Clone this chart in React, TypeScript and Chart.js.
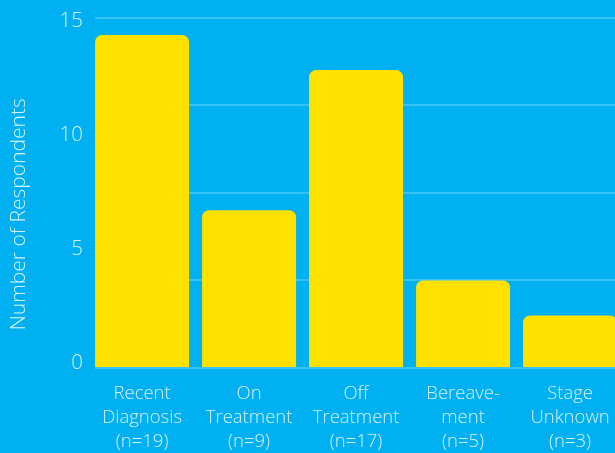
import { useEffect, useRef } from "react";
import { Chart, registerables } from "chart.js";

Chart.register(...registerables);

// Respondent groups, split into the lines shown under each bar
const categories: string[][] = [
  ["Recent", "Diagnosis"],
  ["On", "Treatment"],
  ["Off", "Treatment"],
  ["Bereave-", "ment"],
  ["Stage", "Unknown"],
];
const sampleSizes = [19, 9, 17, 5, 3];
const respondents = [14.25, 6.75, 12.75, 3.75, 2.25];
const yTickValues = [0, 5, 10, 15];
const gridValues = [0, 3.75, 7.5, 11.25, 15];
const axisTitle = "Number of Respondents";

const BG = "#00B0F0";
const BAR = "#FFE100";
const TEXT = "#D6F2FD";
const GRID = "rgba(255,255,255,0.22)";
const FONT = "'Open Sans', 'Noto Sans', sans-serif";

// Rotated y-axis caption, sitting a little below the plot's vertical middle
const sideTitle = {
  id: "sideTitle",
  afterDraw(chart: Chart) {
    const { ctx, chartArea } = chart;
    ctx.save();
    ctx.translate(19, (chartArea.top + chartArea.bottom) / 2 + 21.5);
    ctx.rotate(-Math.PI / 2);
    ctx.font = `300 21px ${FONT}`;
    ctx.fillStyle = TEXT;
    ctx.textAlign = "center";
    ctx.textBaseline = "middle";
    ctx.fillText(axisTitle, 0, 0);
    ctx.restore();
  },
};

export default function App() {
  const canvasRef = useRef<HTMLCanvasElement | null>(null);

  useEffect(() => {
    if (!canvasRef.current) return;
    const chart = new Chart(canvasRef.current, {
      type: "bar",
      data: {
        datasets: [
          {
            data: respondents.map((v, i) => ({ x: i, y: v })),
            backgroundColor: BAR,
            borderWidth: 0,
            borderRadius: { topLeft: 7, topRight: 7, bottomLeft: 0, bottomRight: 0 },
            borderSkipped: "start",
            categoryPercentage: 1,
            barPercentage: 94 / 107,
          },
        ],
      },
      options: {
        animation: false,
        responsive: true,
        maintainAspectRatio: false,
        layout: { padding: { left: 0, right: 0, top: 17.5, bottom: 0 } },
        plugins: { legend: { display: false }, tooltip: { enabled: false } },
        scales: {
          x: {
            type: "linear",
            offset: false,
            min: -0.44,
            max: 4.42,
            afterBuildTicks: (s: any) => {
              s.ticks = categories.map((_, i) => ({ value: i }));
            },
            afterFit: (s: any) => {
              s.height = 85;
              s.paddingLeft = 0;
              s.paddingRight = 0;
            },
            grid: { display: false },
            border: { display: false },
            ticks: {
              autoSkip: false,
              maxRotation: 0,
              padding: 6,
              color: TEXT,
              font: { family: FONT, size: 18.5, weight: "300", lineHeight: 1.3 },
              callback: (v: any) => [...categories[v], `(n=${sampleSizes[v]})`],
            },
          },
          // value axis: carries the bars and the light horizontal rules
          y: {
            type: "linear",
            position: "right",
            min: 0,
            max: 15,
            afterBuildTicks: (s: any) => {
              s.ticks = gridValues.map((value) => ({ value }));
            },
            afterFit: (s: any) => {
              s.width = 0;
              s.paddingTop = 0;
              s.paddingBottom = 0;
            },
            grid: { color: GRID, lineWidth: 2, drawTicks: false },
            border: { display: false },
            ticks: { display: false },
          },
          // label axis on the left, its numbers set slightly inside the rule span
          yLabels: {
            type: "linear",
            position: "left",
            min: -0.22,
            max: 15.15,
            afterBuildTicks: (s: any) => {
              s.ticks = yTickValues.map((value) => ({ value }));
            },
            afterFit: (s: any) => {
              s.width = 95;
              s.paddingTop = 0;
              s.paddingBottom = 0;
            },
            grid: { display: false, drawTicks: false },
            border: { display: false },
            ticks: {
              padding: 12,
              color: TEXT,
              font: { family: FONT, size: 20.5, weight: "300" },
            },
          },
        },
      },
      plugins: [sideTitle],
    });
    return () => chart.destroy();
  }, []);

  return (
    <div
      style={{
        position: "fixed",
        left: 0,
        top: 0,
        width: 615,
        height: 453,
        background: BG,
      }}
    >
      <canvas ref={canvasRef} />
    </div>
  );
}
